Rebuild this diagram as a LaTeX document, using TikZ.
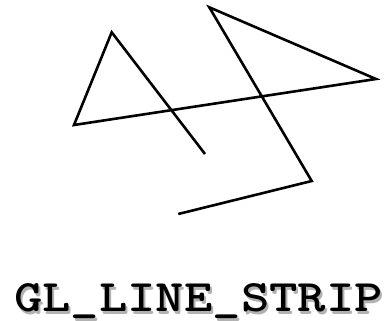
\documentclass[tikz,border=0pt]{standalone}
\usepackage{graphicx}
\begin{document}
\begin{tikzpicture}[x=1pt,y=-1pt,
  strip/.style={line width=2.6pt,line join=miter,black},
  lbl/.style={font=\ttfamily\bfseries\fontsize{45}{50}\selectfont,inner sep=0pt,anchor=base}]
\useasboundingbox (0,0) rectangle (392,321);
\coordinate (p1) at (205,154);
\coordinate (p2) at (111.7,32.3);
\coordinate (p3) at (74,125);
\coordinate (p4) at (376,79);
\coordinate (p5) at (209.3,7.3);
\coordinate (p6) at (311.7,181);
\coordinate (p7) at (178.3,214);
\draw[strip] (p1) -- (p2) -- (p3) -- (p4) -- (p5) -- (p6) -- (p7);
\node[lbl,text=black!30] (shadow) at (200.5,314.5) {\scalebox{1.2}[1]{GL\_LINE\_STRIP}};
\node[lbl] (title) at (198.5,312) {\scalebox{1.2}[1]{GL\_LINE\_STRIP}};
\end{tikzpicture}
\end{document}
